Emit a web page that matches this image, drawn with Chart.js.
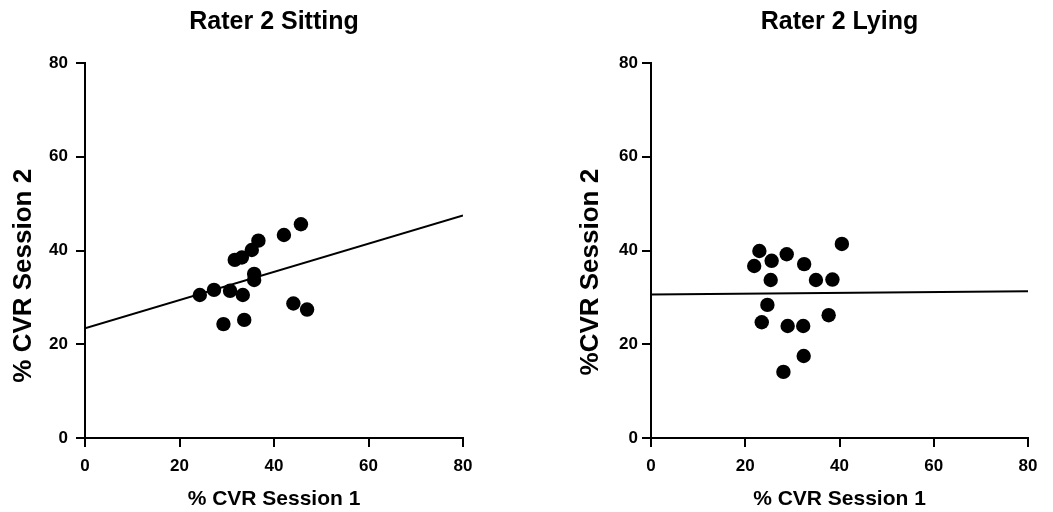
<!DOCTYPE html>
<html>
<head>
<meta charset="utf-8">
<script src="https://cdn.jsdelivr.net/npm/chart.js@4/dist/chart.umd.min.js"></script>
<style>
  body { margin: 0; background: #fff; }
  #left { position: absolute; left: 0; top: 0; }
  #right { position: absolute; left: 526px; top: 0; }
</style>
</head>
<body>
<canvas id="left" width="526" height="512"></canvas>
<canvas id="right" width="527" height="512"></canvas>
<script>
// values
const sittingX = [24.3, 27.3, 30.7, 33.4, 29.3, 33.7, 31.7, 33.2, 35.3, 36.7, 35.8, 35.8, 42.1, 45.7, 44.1, 47.0];
const sittingY = [30.5, 31.6, 31.4, 30.5, 24.3, 25.2, 38.0, 38.5, 40.1, 42.1, 35.0, 33.7, 43.3, 45.6, 28.7, 27.4];
const lyingX = [23.0, 21.9, 25.6, 28.8, 32.5, 25.4, 35.0, 38.5, 40.5, 24.7, 23.5, 29.0, 32.3, 37.7, 32.4, 28.1];
const lyingY = [39.9, 36.7, 37.8, 39.2, 37.1, 33.7, 33.7, 33.8, 41.4, 28.4, 24.7, 23.9, 23.9, 26.2, 17.5, 14.1];
const fitX = [0, 80];
const sittingFitY = [23.4, 47.5];
const lyingFitY = [30.6, 31.3];
const axisTicks = [0, 20, 40, 60, 80];

const FONT = "'Liberation Sans', Arial, sans-serif";

function toPoints(xs, ys) {
    const pts = [];
    for (let i = 0; i < xs.length; i++) {
        pts.push({x: xs[i], y: ys[i]});
    }
    return pts;
}

function setTicks(scale) {
    scale.ticks = axisTicks.map(v => ({value: v}));
}

// the y titles sit a bit below the middle of the axis in the original,
// trailing spaces push the centred text down
function shiftDown(text, n) {
    return text + '\u00a0'.repeat(n);
}

function makeChart(canvasId, opts) {
    const data = {
      datasets: [{
        type: 'line',
        data: toPoints(fitX, opts.fitY),
        borderColor: '#000',
        borderWidth: 2,
        pointRadius: 0,
        fill: false
      }, {
        type: 'scatter',
        data: toPoints(opts.xs, opts.ys),
        backgroundColor: '#000',
        borderWidth: 0,
        pointRadius: 7.2
      }]
    };
    const config = {
      type: 'scatter',
      data: data,
      options: {
        responsive: false,
        animation: false,
        layout: { padding: { left: opts.padLeft, right: opts.padRight, top: 0, bottom: 0 } },
        plugins: { legend: { display: false }, tooltip: { enabled: false } },
        scales: {
          x: {
            type: 'linear', position: 'bottom', min: 0, max: 80,
            afterBuildTicks: setTicks,
            afterFit: s => { s.height = 74; },
            border: { display: true, color: '#000', width: 2 },
            grid: { drawOnChartArea: false, drawTicks: true, tickLength: 9, color: '#000', lineWidth: 2 },
            ticks: { color: '#000', padding: 9, font: { family: FONT, size: 17, weight: 'bold' } },
            title: { display: true, text: '% CVR Session 1', color: '#000', padding: { top: 0, bottom: 0 },
                     font: { family: FONT, size: 21, weight: 'bold' } }
          },
          top: {
            type: 'linear', position: 'top', min: 0, max: 80,
            afterFit: s => { s.height = 63; },
            border: { display: false },
            grid: { display: false },
            ticks: { display: false },
            title: { display: true, text: opts.title, color: '#000', padding: { top: 7, bottom: 0 },
                     font: { family: FONT, size: 25, weight: 'bold' } }
          },
          y: {
            type: 'linear', position: 'left', min: 0, max: 80,
            afterBuildTicks: setTicks,
            afterFit: s => { s.width = opts.yWidth; },
            border: { display: true, color: '#000', width: 2 },
            grid: { drawOnChartArea: false, drawTicks: true, tickLength: 9, color: '#000', lineWidth: 2 },
            ticks: { color: '#000', padding: opts.yPad, font: { family: FONT, size: 17, weight: 'bold' } },
            title: { display: true, text: shiftDown(opts.yTitle, opts.yShift), color: '#000', padding: { top: 8, bottom: 0 },
                     font: { family: FONT, size: 26, weight: 'bold' } }
          }
        }
      }
    };
    return new Chart(document.getElementById(canvasId), config);
}

makeChart('left', {
    xs: sittingX, ys: sittingY, fitY: sittingFitY,
    title: 'Rater 2 Sitting', yTitle: '% CVR Session 2', yShift: 7,
    padLeft: 0, padRight: 63, yWidth: 85, yPad: 8
});

makeChart('right', {
    xs: lyingX, ys: lyingY, fitY: lyingFitY,
    title: 'Rater 2 Lying', yTitle: '%CVR Session 2', yShift: 6,
    padLeft: 41, padRight: 25, yWidth: 84, yPad: 4
});
</script>
</body>
</html>
